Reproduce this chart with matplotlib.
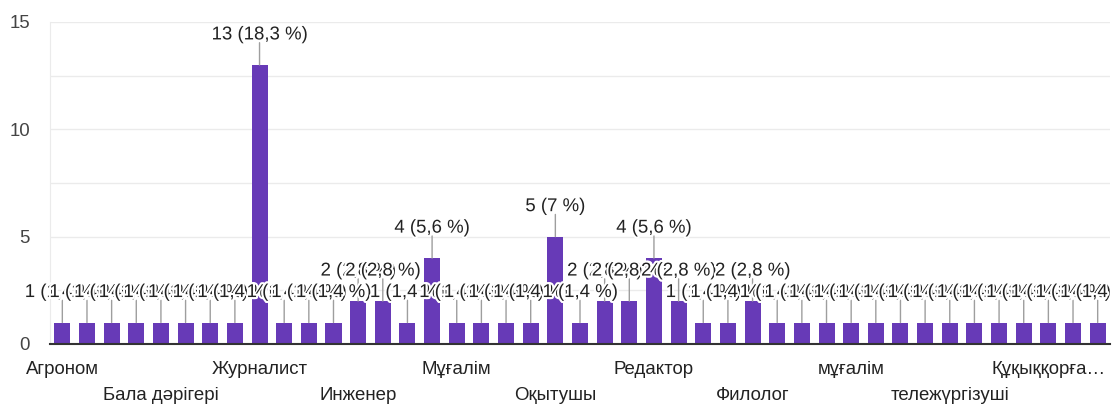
import matplotlib
matplotlib.use("Agg")
import matplotlib.pyplot as plt
import matplotlib.patheffects as pe

# ---- data ----
values = [1, 1, 1, 1, 1, 1, 1, 1, 13, 1,
          1, 1, 2, 2, 1, 4, 1, 1, 1, 1,
          5, 1, 2, 2, 4, 2, 1, 1, 2, 1,
          1, 1, 1, 1, 1, 1, 1, 1, 1, 1,
          1, 1, 1]
tick_positions = [0, 4, 8, 12, 16, 20, 24, 28, 32, 36, 40]
tick_labels = ["Агроном", "Бала дәрігері", "Журналист", "Инженер", "Мұғалім",
               "Оқытушы", "Редактор", "Филолог", "мұғалім", "тележүргізуші",
               "Құқыққорға…"]

BAR = "#673ab7"
FONT = ["Liberation Sans", "DejaVu Sans"]
FS = 13.4
plt.rcParams['font.family'] = FONT

W, H = 1112, 408
fig = plt.figure(figsize=(W / 100, H / 100), dpi=100)
ax = fig.add_axes([50 / W, 1 - 344 / H, 1060 / W, 322 / H])

x = list(range(len(values)))
ax.bar(x, values, width=0.65, color=BAR, zorder=2)

ax.set_xlim(-0.5, len(values) - 0.5)
ax.set_ylim(0, 15)
ax.set_yticks([0, 5, 10, 15])
ax.set_yticks([2.5, 7.5, 12.5], minor=True)
ax.grid(axis='y', which='both', color='#ebebeb', lw=1, zorder=0)
ax.tick_params(axis='y', which='both', length=0, pad=14.4, labelsize=FS, labelcolor='#444444')
ax.set_xticks([])
for s in ['top', 'right']:
    ax.spines[s].set_visible(False)
ax.spines['left'].set_color('#ebebeb')
ax.spines['bottom'].set_color('#333333')
ax.spines['bottom'].set_linewidth(1.5)
ax.spines['bottom'].set_zorder(3)

total = sum(values)
for i, v in enumerate(values):
    pct = round(v / total * 100, 1)
    ps = (f"{pct:.1f}").replace('.', ',')
    if ps.endswith(',0'):
        ps = ps[:-2]
    ax.annotate('', xy=(i, v), xytext=(0, 16), textcoords='offset points',
                arrowprops=dict(arrowstyle='-', color='#9e9e9e', lw=1,
                                shrinkA=0, shrinkB=0), zorder=3)
    ax.annotate(f"{v} ({ps} %)", xy=(i, v), xytext=(0, 21.6),
                textcoords='offset points', ha='center', va='center',
                fontsize=FS, color='#222222', zorder=4,
                path_effects=[pe.withStroke(linewidth=3, foreground='white')])

for k, (p, lab) in enumerate(zip(tick_positions, tick_labels)):
    yy = -26 / 322 if k % 2 == 0 else -51 / 322
    ax.text(p, yy, lab, transform=ax.get_xaxis_transform(), ha='center', va='center',
            fontsize=FS, color='#222222')

fig.savefig("out.png", dpi=100)
